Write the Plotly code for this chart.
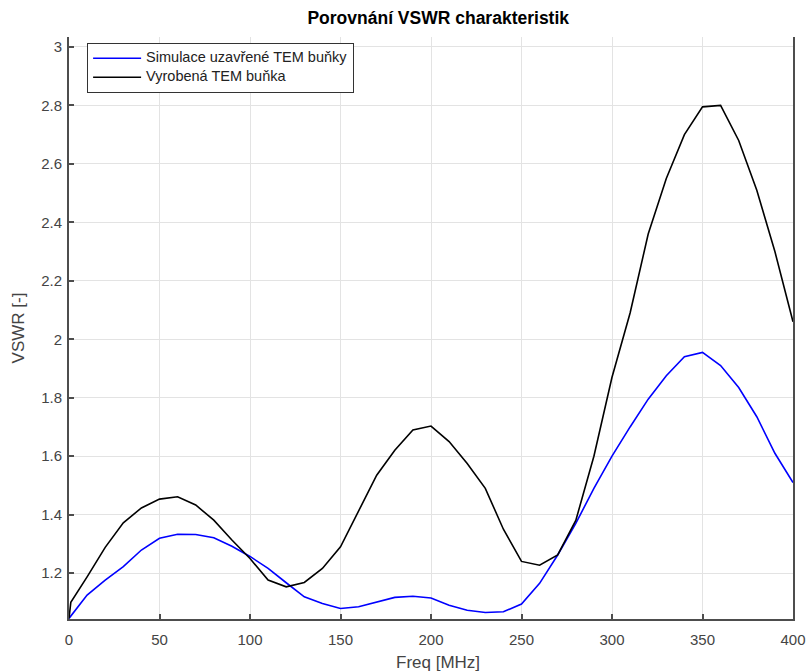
import plotly.graph_objects as go

# Frequency grids [MHz]
freq_sim = [0, 10, 20, 30, 40, 50, 60, 70, 80, 90, 100, 110, 120, 130, 140, 150, 160, 170, 180, 190,
            200, 210, 220, 230, 240, 250, 260, 270, 280, 290, 300, 310, 320, 330, 340, 350, 360, 370, 380, 390, 400]
freq_meas = [0, 1, 10, 20, 30, 40, 50, 60, 70, 80, 90, 100, 110, 120, 130, 140, 150, 160, 170, 180, 190,
             200, 210, 220, 230, 240, 250, 260, 270, 280, 290, 300, 310, 320, 330, 340, 350, 360, 370, 380, 390, 400]

# Simulated VSWR of the closed TEM cell
vswr_sim = [1.045, 1.125, 1.176, 1.222, 1.279, 1.319, 1.333, 1.332, 1.321, 1.292, 1.257, 1.216, 1.167, 1.119,
            1.096, 1.079, 1.085, 1.102, 1.117, 1.121, 1.115, 1.090, 1.073, 1.065, 1.068, 1.094, 1.165, 1.262,
            1.370, 1.490, 1.600, 1.700, 1.795, 1.875, 1.940, 1.955, 1.910, 1.835, 1.735, 1.610, 1.510]

# Measured VSWR of the manufactured TEM cell
vswr_meas = [1.045, 1.100, 1.187, 1.288, 1.372, 1.423, 1.453, 1.461, 1.433, 1.381, 1.313, 1.250, 1.176, 1.153,
             1.168, 1.216, 1.290, 1.410, 1.535, 1.620, 1.690, 1.703, 1.650, 1.575, 1.490, 1.350, 1.240, 1.227,
             1.262, 1.380, 1.600, 1.870, 2.090, 2.360, 2.550, 2.700, 2.795, 2.800, 2.680, 2.510, 2.300, 2.060]

series_names = ["Simulace uzavřené TEM buňky", "Vyrobená TEM buňka"]

y_ticks = [1.2, 1.4, 1.6, 1.8, 2.0, 2.2, 2.4, 2.6, 2.8, 3.0]
y_tick_text = ["1.2", "1.4", "1.6", "1.8", "2", "2.2", "2.4", "2.6", "2.8", "3"]
x_ticks = [0, 50, 100, 150, 200, 250, 300, 350, 400]

FONT = "Arial, Liberation Sans, Helvetica, sans-serif"
AXIS_COLOR = "#4d4d4d"
LABEL_COLOR = "#444444"


def legend_label(text):
    # larger glyphs inside a compact legend row
    return f"<span style='font-size:14.5px'>{text}</span>"


fig = go.Figure()
fig.add_trace(go.Scatter(x=freq_sim, y=vswr_sim, mode="lines", name=legend_label(series_names[0]),
                         line=dict(color="#0000ff", width=1.6)))
fig.add_trace(go.Scatter(x=freq_meas, y=vswr_meas, mode="lines", name=legend_label(series_names[1]),
                         line=dict(color="#000000", width=1.6)))

fig.update_layout(
    width=808, height=671,
    margin=dict(l=69, r=15, t=37, b=52, autoexpand=False),
    paper_bgcolor="white", plot_bgcolor="white",
    font=dict(family=FONT, size=13, color="#333333"),
    title=dict(text="<b>Porovnání VSWR charakteristik</b>", x=0.51, xref="paper", xanchor="center",
               y=0.973, yref="container", yanchor="middle",
               font=dict(family=FONT, size=17.5, color="#000000")),
    showlegend=True,
    legend=dict(x=0.025, y=0.99, xanchor="left", yanchor="top",
                bgcolor="white", bordercolor="#333333", borderwidth=1,
                font=dict(family=FONT, size=10, color="#222222"),
                tracegroupgap=0, itemwidth=48),
    annotations=[
        dict(text="Freq [MHz]", xref="paper", yref="paper", x=0.51, y=-0.074,
             xanchor="center", yanchor="middle", showarrow=False,
             font=dict(family=FONT, size=17, color=LABEL_COLOR)),
    ],
)

fig.update_xaxes(
    range=[0, 400], tickvals=x_ticks, ticks="inside", ticklen=5, tickwidth=2, tickcolor=AXIS_COLOR,
    showline=True, linecolor=AXIS_COLOR, linewidth=2, mirror=False, automargin=False,
    showgrid=True, gridcolor="#e3e3e3", gridwidth=1, zeroline=False, ticklabelstandoff=6,
    tickfont=dict(family=FONT, size=15, color=LABEL_COLOR),
)
fig.update_yaxes(
    range=[1.043, 3.034], tickvals=y_ticks, ticktext=y_tick_text, ticks="inside", ticklen=5, tickwidth=2,
    tickcolor=AXIS_COLOR, automargin=False,
    showline=True, linecolor=AXIS_COLOR, linewidth=2, mirror=True,
    showgrid=True, gridcolor="#e3e3e3", gridwidth=1, zeroline=False, ticklabelstandoff=2,
    tickfont=dict(family=FONT, size=15, color=LABEL_COLOR),
    title=dict(text="VSWR [-]", font=dict(family=FONT, size=17, color=LABEL_COLOR), standoff=12),
)

fig.write_html("out.html")
